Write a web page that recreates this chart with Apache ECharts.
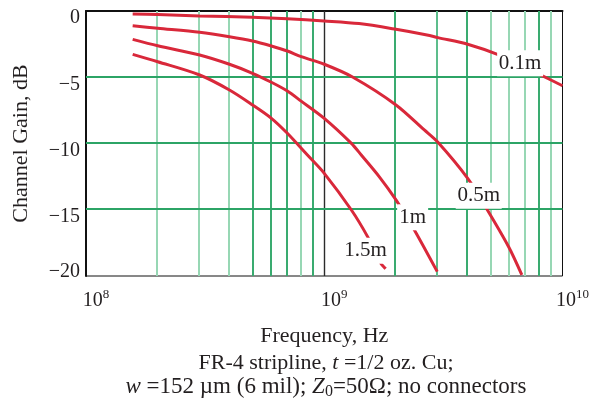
<!DOCTYPE html>
<html><head><meta charset="utf-8">
<script src="https://cdn.jsdelivr.net/npm/echarts@6/dist/echarts.min.js"></script>
<style>html,body{margin:0;padding:0;background:#fff}#c{width:592px;height:408px}</style>
</head><body><div id="c"></div>
<script>
// ---- data (frequency in Hz, gain in dB) ----
const freq01 = [1.57e8, 2e8, 3e8, 5e8, 7e8, 1e9, 1.4e9, 2e9, 2.7e9, 3e9, 4e9, 5.4e9, 8e9, 1e10];
const gain01 = [-0.23, -0.27, -0.37, -0.47, -0.58, -0.75, -0.95, -1.38, -1.81, -2.01, -2.51, -3.32, -4.78, -5.64];

const freq05 = [1.57e8, 2e8, 3e8, 4e8, 5e8, 6e8, 7e8, 8e8, 1e9, 1.32e9, 2e9, 2.63e9, 3e9, 4e9, 4.75e9, 5.94e9, 6.75e9];
const gain05 = [-1.11, -1.3, -1.61, -1.94, -2.26, -2.64, -3.02, -3.45, -4.02, -5.0, -7.09, -8.98, -9.91, -12.63, -14.77, -17.79, -19.92];

const freq1 = [1.57e8, 2e8, 3e8, 4e8, 5e8, 6e8, 7e8, 8e8, 1e9, 1.3e9, 1.43e9, 1.7e9, 2e9, 2.35e9, 2.98e9];
const gain1 = [-2.14, -2.62, -3.32, -4.02, -4.7, -5.38, -6.04, -6.8, -8.1, -9.99, -10.87, -12.5, -14.26, -16.3, -19.67];

const freq15 = [1.57e8, 2e8, 3e8, 4e8, 5e8, 6e8, 7e8, 8.5e8, 1e9, 1.3e9, 1.52e9, 1.73e9, 1.81e9];
const gain15 = [-3.27, -3.83, -4.83, -5.96, -7.09, -8.1, -9.23, -10.87, -12.25, -15.02, -17.03, -19.05, -19.45];

const seriesNames = ['0.1m', '0.5m', '1m', '1.5m'];
const labelFreq = [6.64e9, 4.45e9, 2.35e9, 1.49e9];
const labelGain = [-3.95, -13.94, -15.57, -18.09];

const xTicks = [1e8, 1e9, 1e10];
const yTicks = [0, -5, -10, -15, -20];
const minorFreqs = [2e8,3e8,4e8,5e8,6e8,7e8,8e8,9e8,2e9,3e9,4e9,5e9,6e9,7e9,8e9,9e9];
const minorShade = ['l','l','l','d','d','d','l','d','d','m','d','l','l','l','d','l'];
const hLines = [-5, -10, -15];

const zip = (a, b) => a.map((v, i) => [v, b[i]]);
const curves = [zip(freq01, gain01), zip(freq05, gain05), zip(freq1, gain1), zip(freq15, gain15)];

const SERIF = '"Liberation Serif", "Times New Roman", serif';
const TXT = '#231f20';
const RED = '#d9283a';
const GREEN = '#2ca466';
const shadeCol = {l: '#97d7b4', m: '#5dbd8c', d: '#3aab70'};
const boxW = [46, 46, 31, 46];

const X0 = xTicks[0], X1 = xTicks[xTicks.length - 1];
const Y0 = yTicks[yTicks.length - 1], Y1 = yTicks[0];
// 2px-wide lines aligned on even pixel pairs
const pair = v => 2 * Math.round((v - 1) / 2) + 1;

const chart = echarts.init(document.getElementById('c'), null, {renderer: 'canvas'});
chart.setOption({
  animation: false,
  backgroundColor: '#fff',
  grid: {left: 86, top: 11, width: 480, height: 265, show: true, borderColor: '#111', borderWidth: 1, backgroundColor: 'transparent'},
  xAxis: {
    type: 'log', logBase: 10, min: X0, max: X1,
    name: 'Frequency, Hz', nameLocation: 'middle', nameGap: 49,
    nameTextStyle: {fontFamily: SERIF, fontSize: 22, color: TXT},
    axisLine: {show: true, lineStyle: {color: '#111', width: 2}},
    axisTick: {show: false},
    splitLine: {show: false},
    axisLabel: {
      margin: 12, padding: [0, 0, 0, 20],
      formatter: v => '{b|10}{s|' + Math.round(Math.log10(v)) + '}',
      rich: {
        b: {fontFamily: SERIF, fontSize: 20, color: TXT},
        s: {fontFamily: SERIF, fontSize: 13, color: TXT, padding: [0, 0, 12, 0]}
      }
    }
  },
  yAxis: {
    type: 'value', min: Y0, max: Y1, interval: 5,
    name: 'Channel Gain, dB', nameLocation: 'middle', nameGap: 54,
    nameTextStyle: {fontFamily: SERIF, fontSize: 22, color: TXT},
    axisLine: {show: true, lineStyle: {color: '#111', width: 2}},
    axisTick: {show: false},
    splitLine: {show: false},
    axisLabel: {
      margin: 6,
      formatter: v => {
        const t = v < 0 ? '\u2212' + (-v) : String(v);
        return v === -20 ? '{u|' + t + '}' : '{d|' + t + '}';
      },
      rich: {
        d: {fontFamily: SERIF, fontSize: 20, color: TXT, padding: [14, 0, 0, 0]},
        u: {fontFamily: SERIF, fontSize: 20, color: TXT, padding: [0, 0, 8, 0]}
      }
    }
  },
  series: [
    // vertical grid lines at the log minor positions
    {type: 'custom', z: 1, silent: true, clip: false,
     data: minorFreqs.map(f => [f, -10]),
     renderItem: (params, api) => {
       const top = api.coord([api.value(0), Y1]);
       const bot = api.coord([api.value(0), Y0]);
       const x = pair(top[0]);
       return {type: 'line', shape: {x1: x, y1: top[1], x2: x, y2: bot[1]},
               style: {stroke: shadeCol[minorShade[params.dataIndex]], lineWidth: 2}};
     }},
    // decade line at 10^9
    {type: 'custom', z: 1, silent: true, clip: false,
     data: [[xTicks[1], -10]],
     renderItem: (params, api) => {
       const top = api.coord([api.value(0), Y1]);
       const bot = api.coord([api.value(0), Y0]);
       const x = Math.round(top[0] - 0.5) + 0.5;
       return {type: 'line', shape: {x1: x, y1: top[1], x2: x, y2: bot[1]},
               style: {stroke: '#2b2b2b', lineWidth: 1.4}};
     }},
    // horizontal grid lines
    {type: 'custom', z: 1, silent: true, clip: false,
     data: hLines.map(v => [1e9, v]),
     renderItem: (params, api) => {
       const l = api.coord([X0, api.value(1)]);
       const r = api.coord([X1, api.value(1)]);
       const y = pair(l[1]);
       return {type: 'line', shape: {x1: l[0], y1: y, x2: r[0], y2: y},
               style: {stroke: GREEN, lineWidth: 2}};
     }},
    ...curves.map((d, i) => ({
      type: 'line', name: seriesNames[i], data: d, smooth: 0.3, showSymbol: false, z: 3,
      lineStyle: {color: RED, width: 3}, silent: true
    })),
    {type: 'scatter', z: 10, silent: true, symbol: 'rect',
     itemStyle: {color: '#fff', opacity: 1},
     data: labelFreq.map((f, i) => ({value: [f, labelGain[i]], name: seriesNames[i], symbolSize: [boxW[i], 26]})),
     label: {show: true, position: 'inside', formatter: p => p.name,
       fontFamily: SERIF, fontSize: 21, color: TXT}}
  ],
  graphic: [
    {type: 'text', z: 100, style: {x: 326, y: 363, align: 'center', verticalAlign: 'middle',
      text: 'FR-4 stripline, {i|t} =1/2 oz. Cu;',
      fontFamily: SERIF, fontSize: 22, fill: TXT,
      rich: {i: {fontFamily: SERIF, fontSize: 22, fontStyle: 'italic', fill: TXT}}}},
    {type: 'text', z: 100, style: {x: 326, y: 387, align: 'center', verticalAlign: 'middle',
      text: '{i|w} =152 \u00b5m (6 mil); {i|Z}{sub|0}=50\u03a9; no connectors',
      fontFamily: SERIF, fontSize: 23, fill: TXT,
      rich: {i: {fontFamily: SERIF, fontSize: 23, fontStyle: 'italic', fill: TXT},
             sub: {fontFamily: SERIF, fontSize: 16, fill: TXT, padding: [9, 0, 0, 0]}}}}
  ]
});
</script></body></html>
